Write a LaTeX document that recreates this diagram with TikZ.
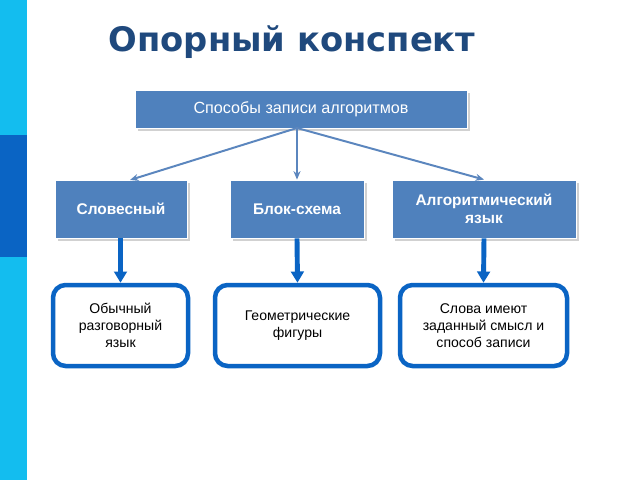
\documentclass[tikz,border=0pt]{standalone}
\usepackage{fontspec}
\setmainfont{Liberation Sans}
\newfontfamily\titlefont{DejaVu Sans}
\usetikzlibrary{arrows.meta}
\definecolor{stripcyan}{HTML}{13BDEF}
\definecolor{stripblue}{HTML}{0A64C4}
\definecolor{boxblue}{HTML}{4F81BD}
\definecolor{titleblue}{HTML}{1F497D}
\definecolor{linkblue}{HTML}{5B86BE}
\tikzset{
  headbox/.style={fill=boxblue, draw=white, line width=0.6pt, text=white,
    font=\fontsize{11}{13}\selectfont\bfseries, align=center, inner sep=0pt},
  notebox/.style={draw=stripblue, line width=3.2pt, fill=white, rounded corners=9pt,
    align=center, font=\fontsize{10}{12}\selectfont, inner sep=0pt},
  link/.style={draw=linkblue, line width=1.4pt, -{Stealth[length=6pt,width=5pt]}},
  fatlink/.style={draw=stripblue, line width=3.5pt, -{Triangle[length=8pt,width=9pt]}}
}
\begin{document}
\begin{tikzpicture}[x=0.025cm, y=-0.025cm]
\useasboundingbox (0,0) rectangle (640,480);
\fill[white] (0,0) rectangle (640,480);
\fill[stripcyan] (0,0) rectangle (27,480);
\fill[stripblue] (0,135) rectangle (27,257);
\node[text=titleblue, font=\titlefont\fontsize{24}{28}\selectfont\bfseries] (title) at (292,42) {Опорный конспект};
% shadows
\foreach \a/\b/\c/\d in {135/90/467/128, 55/180/187/238, 230/180/364/238, 392/180/576/238}
  \fill[black!18] (\a+3,\b+3) rectangle (\c+3,\d+3);
\node[headbox, minimum width=332*0.025cm, minimum height=38*0.025cm, font=\fontsize{11.5}{13}\selectfont] (root) at (301,109) {Способы записи алгоритмов};
\node[headbox, minimum width=132*0.025cm, minimum height=58*0.025cm] (word) at (121,209) {Словесный};
\node[headbox, minimum width=134*0.025cm, minimum height=58*0.025cm] (flow) at (297,209) {Блок-схема};
\node[headbox, minimum width=184*0.025cm, minimum height=58*0.025cm] (lang) at (484,209) {Алгоритмический\\язык};
\node[notebox, minimum width=135*0.025cm, minimum height=81*0.025cm] (n1) at (120.5,325.5) {Обычный\\разговорный\\язык};
\node[notebox, minimum width=165*0.025cm, minimum height=81*0.025cm] (n2) at (297.5,325.5) {Геометрические\\фигуры};
\node[notebox, minimum width=167*0.025cm, minimum height=81*0.025cm] (n3) at (483.5,325.5) {Слова имеют\\заданный смысл и\\способ записи};
\coordinate (hub) at (297,128);
\draw[link] (hub) -- (130,180);
\draw[link] (hub) -- (flow.north);
\draw[link] (hub) -- (lang.north);
\draw[fatlink] (word.south -| n1.north) ++(0,0) -- (n1.north);
\draw[fatlink] (flow.south) -- (n2.north);
\draw[fatlink] (lang.south) -- (n3.north);
\end{tikzpicture}
\end{document}
